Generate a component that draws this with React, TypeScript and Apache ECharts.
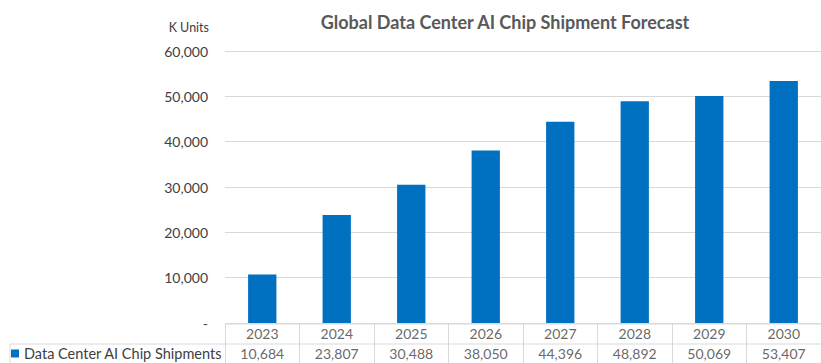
import React, { useEffect, useRef } from "react";
import * as echarts from "echarts";

const title = "Global Data Center AI Chip Shipment Forecast";
const unitLabel = "K Units";
const seriesName = "Data Center AI Chip Shipments";
const years = ["2023", "2024", "2025", "2026", "2027", "2028", "2029", "2030"];
const shipments = [10684, 23807, 30488, 38050, 44396, 48892, 50069, 53407];
const yTicks = { min: 0, max: 60000, interval: 10000 };

const FONT = "Lato";
const fmt = (v: number) => (v === 0 ? "-" : v.toLocaleString("en-US"));

export default function App() {
  const ref = useRef<HTMLDivElement>(null);
  useEffect(() => {
    document.body.style.margin = "0";
    const chart = echarts.init(ref.current!, undefined, { renderer: "svg" });
    const line = { stroke: "#D9D9D9", lineWidth: 1 };
    chart.setOption({
      animation: false,
      textStyle: { fontFamily: FONT },
      title: {
        text: title,
        left: 500,
        textAlign: "center",
        top: 8,
        textStyle: { fontSize: 18, fontWeight: "bold", color: "#595959", fontFamily: FONT },
      },
      legend: {
        left: 11,
        top: 346,
        icon: "rect",
        itemWidth: 8,
        itemHeight: 8,
        itemGap: 4,
        padding: 0,
        data: [seriesName],
        textStyle: { fontSize: 14.5, color: "#404040", fontFamily: FONT, padding: [0, 0, 0, 0] },
      },
      grid: [
        { left: 225, top: 51, width: 610, height: 272 },
        { left: 225, top: 324, width: 610, height: 39 },
      ],
      xAxis: [
        {
          gridIndex: 0,
          type: "category",
          data: years,
          axisLine: { show: false },
          axisTick: { show: false },
          axisLabel: { show: false },
        },
        {
          gridIndex: 1,
          type: "category",
          data: years,
          axisLine: { show: false },
          axisTick: { show: false },
          axisLabel: { show: false },
          splitLine: { show: true, lineStyle: { color: "#D9D9D9", width: 1 } },
        },
      ],
      yAxis: [
        {
          gridIndex: 0,
          type: "value",
          min: yTicks.min,
          max: yTicks.max,
          interval: yTicks.interval,
          axisLine: { show: false },
          axisTick: { show: false },
          axisLabel: {
            margin: 17,
            fontSize: 14,
            color: "#404040",
            fontFamily: FONT,
            formatter: (v: number) => fmt(v),
          },
          splitLine: { lineStyle: { color: "#D9D9D9", width: 1 } },
        },
        {
          gridIndex: 1,
          type: "value",
          min: 0,
          max: 2,
          interval: 1,
          show: false,
        },
      ],
      series: [
        {
          name: seriesName,
          type: "bar",
          xAxisIndex: 0,
          yAxisIndex: 0,
          data: shipments,
          barWidth: "38%",
          itemStyle: { color: "#0070C0" },
        },
        {
          type: "scatter",
          xAxisIndex: 1,
          yAxisIndex: 1,
          symbolSize: 1,
          itemStyle: { color: "rgba(0,0,0,0)" },
          data: years.map((y) => [y, 1.5]),
          label: {
            show: true,
            position: "inside",
            fontSize: 14,
            color: "#404040",
            fontFamily: FONT,
            formatter: (p: any) => p.value[0],
          },
          silent: true,
        },
        {
          type: "scatter",
          xAxisIndex: 1,
          yAxisIndex: 1,
          symbolSize: 1,
          itemStyle: { color: "rgba(0,0,0,0)" },
          data: years.map((y, i) => [y, 0.5, shipments[i]]),
          label: {
            show: true,
            position: "inside",
            fontSize: 14,
            color: "#404040",
            fontFamily: FONT,
            formatter: (p: any) => fmt(p.value[2]),
          },
          silent: true,
        },
      ],
      graphic: [
        {
          type: "text",
          right: 821 - 209,
          top: 21,
          style: { text: unitLabel, fontSize: 12.5, fill: "#404040", fontFamily: FONT, textAlign: "right" },
        },
        { type: "line", shape: { x1: 225, y1: 324, x2: 835, y2: 324 }, style: line },
        { type: "line", shape: { x1: 10, y1: 344, x2: 835, y2: 344 }, style: line },
        { type: "line", shape: { x1: 10, y1: 344, x2: 10, y2: 363 }, style: line },
      ],
    });
    return () => chart.dispose();
  }, []);
  return <div ref={ref} style={{ width: 821, height: 363 }} />;
}
